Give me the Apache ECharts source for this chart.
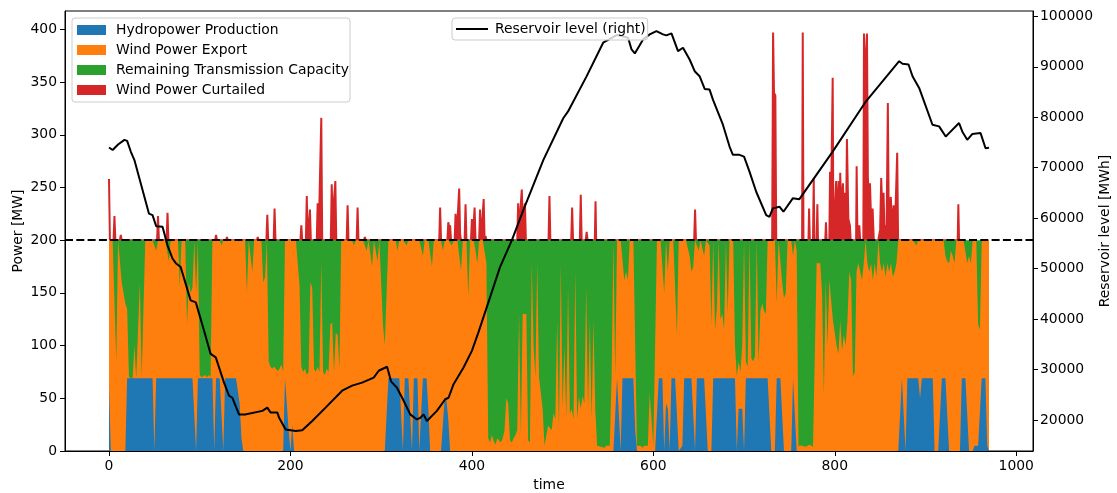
<!DOCTYPE html>
<html>
<head>
<meta charset="utf-8">
<script src="https://cdn.jsdelivr.net/npm/echarts@6/dist/echarts.min.js"></script>
<style>
  html, body { margin: 0; padding: 0; background: #ffffff; }
  #chart { width: 1117px; height: 493px; }
</style>
</head>
<body>
<div id="chart"></div>
<script>
// Dispatch sampled every 2 time units (t = 0, 2, 4, ... 970)
const timeStep = 2;
const capacity = 200; // transmission limit [MW]

// Hydropower production [MW]
const hydro = [
  61,0,0,0,0,0,0,0,0,0,
  69,69,69,69,69,69,69,69,69,69,
  69,69,69,69,69,0,69,69,69,69,
  69,69,69,69,69,69,69,69,69,69,
  69,69,69,69,69,69,69,69,0,69,
  69,69,69,69,69,69,69,69,0,69,
  69,69,69,0,69,69,69,69,69,69,
  69,69,45,12,0,0,0,0,0,0,
  0,0,0,0,0,0,0,0,0,0,
  0,0,0,0,0,0,0,69,69,20,
  0,25,0,0,0,0,0,0,0,0,
  0,0,0,0,0,0,0,0,0,0,
  0,0,0,0,0,0,0,0,0,0,
  0,0,0,0,0,0,0,0,0,0,
  0,0,0,0,0,0,0,0,0,0,
  0,0,0,0,69,69,69,69,69,69,
  69,69,0,69,69,69,69,0,69,69,
  69,0,0,69,69,69,40,0,0,0,
  0,0,0,0,0,50,48,30,0,0,
  0,0,0,0,0,0,0,0,0,0,
  0,0,0,0,0,0,0,0,0,0,
  0,0,0,0,0,0,0,0,0,0,
  0,0,0,0,0,0,0,0,0,0,
  0,0,0,0,0,0,0,0,0,0,
  0,0,0,0,0,0,0,0,0,0,
  0,0,0,0,0,0,0,0,0,0,
  0,0,0,0,0,0,0,0,0,0,
  0,0,0,0,0,0,0,0,0,0,
  69,69,0,69,69,69,69,69,69,69,
  20,0,0,0,0,0,0,0,0,0,
  0,0,0,69,69,69,0,45,40,0,
  69,69,69,69,0,0,5,69,69,69,
  69,69,69,0,69,69,69,69,69,69,
  0,0,0,69,69,69,69,69,69,69,
  69,69,69,69,69,69,0,40,40,40,
  0,69,69,69,69,69,69,69,69,69,
  69,69,69,69,69,0,0,0,69,69,
  69,69,0,0,0,0,0,69,69,0,
  0,0,0,0,0,0,0,0,0,0,
  0,0,0,0,0,0,0,0,0,0,
  0,0,0,0,0,0,0,0,0,0,
  0,0,0,0,0,0,0,0,0,0,
  0,0,0,0,0,0,0,0,0,0,
  0,0,0,0,0,0,0,69,69,0,
  69,69,69,69,69,69,69,50,69,69,
  69,69,69,69,69,0,0,0,0,69,
  69,69,69,0,0,0,0,0,0,0,
  69,69,69,69,0,0,0,5,5,5,
  5,69,69,69,5,0
];

// Wind power exported over the line [MW]
const windExport = [
  139,200,200,200,85,200,200,160,150,140,
  66,1,1,0,31,0,0,91,0,0,
  131,131,131,131,131,200,121,131,131,131,
  131,131,131,111,131,131,131,131,131,86,
  131,131,131,51,91,81,86,131,150,131,
  3,1,1,3,1,3,1,131,200,131,
  131,131,126,200,131,131,131,131,131,131,
  131,131,155,188,200,200,150,200,200,170,
  200,200,200,200,200,160,165,200,85,80,
  78,80,80,76,78,82,75,131,131,180,
  200,175,200,200,200,157,80,75,78,72,
  75,160,155,78,75,80,75,180,75,72,
  78,75,120,122,75,112,110,78,200,200,
  200,200,200,200,200,195,200,200,200,200,
  200,200,190,200,200,175,200,200,180,200,
  200,120,100,100,131,131,131,131,131,121,
  131,131,200,131,126,131,131,200,131,131,
  131,200,200,116,131,131,160,200,175,200,
  200,200,200,200,190,150,152,170,200,195,
  200,200,200,200,171,200,200,200,146,200,
  200,200,190,178,200,200,200,200,178,12,
  8,15,10,6,12,10,8,12,20,50,
  45,10,8,12,15,20,130,15,130,130,
  130,10,8,178,100,70,178,70,70,40,
  5,5,24,24,20,36,30,124,20,178,
  40,100,30,156,35,40,30,171,30,52,
  40,52,45,156,40,124,30,124,40,5,
  5,4,5,3,5,4,5,70,200,70,
  131,131,200,131,93,101,93,131,131,131,
  80,5,4,5,3,5,4,5,55,55,
  5,4,200,131,131,131,150,155,130,200,
  131,131,131,41,200,200,195,131,131,131,
  116,101,106,200,131,121,131,131,116,131,
  200,195,120,131,46,66,131,56,61,46,
  131,61,131,131,131,31,71,45,35,60,
  200,16,11,131,19,16,21,131,14,64,
  71,64,61,131,131,200,200,200,71,131,
  111,91,145,150,200,200,200,116,131,190,
  5,4,5,5,4,5,6,5,4,4,
  178,178,178,150,52,162,100,162,162,124,
  124,100,92,124,95,110,100,124,170,162,
  71,75,170,178,170,162,178,200,178,170,
  178,162,178,165,200,178,170,178,165,178,
  170,178,165,170,178,200,200,131,131,200,
  131,131,131,131,131,126,131,150,131,131,
  131,131,131,131,131,200,200,200,200,131,
  131,116,111,178,190,185,178,200,200,200,
  131,131,131,109,185,178,200,195,195,115,
  110,131,131,131,195,200
];

// Curtailed wind [time, MW]
const curtailed = [
  [0,58],[1,0],[5,0],[6,23],[7,0],[12,0],[13,5],[14,0],
  [53,0],[54,23],[55,0],[63.5,0],[64.5,26],[65.5,0],
  [117,0],[118,5],[119,0],[129,0],[130,3],[131,0],[163,0],[164,3],[165,0],
  [173.5,0],[174.5,24],[175.5,0],[181.5,0],[182.5,30],[183.5,0],
  [211,0],[212,14],[213,0],[217,0],[218,42],[219,0],[220.5,0],[221.5,29],[222.5,0],
  [229,0],[230,35],[231,0],[233,0],[234,116],[235,0],
  [244.5,0],[245.5,53],[246.5,20],[248.5,20],[249.5,56],[250.5,0],
  [262,0],[263,33],[264,0],[273,0],[274,31],[275,0],[281,0],[282,3],[283,0],
  [364,0],[365,31],[366,0],[373,0],[374,17],[375,12],[376,14],[377,0],
  [381,0],[382,25],[383,0],[385,0],[386,49],[387,6],[388,0],
  [392,0],[393,34],[394,0],[399,0],[400,20],[401,0],[402,0],[403,31],[404,0],
  [408,0],[409,29],[410,0],[412,0],[413,39],[414,0],[415,4],[416,0],
  [450,0],[451,35],[452,10],[454,10],[455,48],[456,20],[457,20],[458.5,35],[459.5,0],
  [484.5,0],[485.5,42],[486.5,0],[509.5,0],[510.5,31],[511.5,0],
  [519,0],[520,43],[521,0],[525.5,0],[526.5,8],[527.5,0],[535.5,0],[536.3,37],[537,0],
  [645,0],[646,29],[647,0],
  [731,0],[732,197],[733,140],[734.5,137],[735.5,0],
  [764,0],[764.7,197],[765.5,0],[771,0],[771.7,30],[772.5,0],
  [776,0],[776.8,59],[777.5,0],[780,0],[780.8,34],[781.5,0],
  [789.5,0],[790.3,17],[791,0],[794,0],[794.8,65],[796,40],[797.7,154],[798.5,0],
  [800.5,0],[801.5,56],[803,20],[804.3,56],[805.3,0],[806,64],[807,30],[809,54],
  [810,20],[811.2,45],[812.5,20],[813.4,96],[815,20],[816.7,14],[817.5,0],
  [823.5,0],[824.1,70],[825,0],[826.5,0],[827,14],[828,0],
  [831.5,0],[832.2,196],[833.5,150],[835.5,196],[836.5,60],[837.5,40],[838.8,54],
  [840,20],[841.7,30],[843,0],
  [848,0],[849,5],[850,10],[851.2,59],[852.3,30],[853.8,45],[855,0],[856,14],[857,0],
  [858,0],[858.5,130],[859.5,20],[860.5,20],[861.8,41],[863,10],[864.8,33],[866,0],
  [868,0],[868.8,83],[869.8,0],[935.5,0],[936.2,34],[937,0]
];

// Reservoir level [MWh]
const reservoirTime = [
  0,4,10,17,20,24,28,44,48,52,59,64.5,70,74,79,90,95.7,104.8,112,117.7,
  126.8,132.3,136,143.3,150,169,174.5,178,185.5,187.4,194.7,205.7,213,224,238.7,
  257,268,279,291.8,297.3,306.5,311,317.4,324.8,332,339.4,343,346.8,350.4,361.4,
  370.6,374.3,379.8,390.8,400,407.3,420,431,444,456.7,478.7,500.7,506,526.4,544.7,
  560,572.2,576,579.6,588.7,596,603.4,610.7,614.4,620,627.2,632.7,640,645.6,651,
  656.6,662,665.7,676.7,684,687.7,695,700,706,713.4,724.4,728,731.7,739,743.4,
  753.7,761,797.7,834.4,871,874.7,881.3,885.7,893,907.7,915,922.3,926,937,940.5,
  946,951.5,960.7,966.2,970
];
const reservoirLevel = [
  74000,73500,74600,75500,75300,73200,71500,60900,60600,58400,58300,54600,52000,51000,50300,43700,43300,37700,33100,32400,
  27400,24800,24400,21100,21100,21800,22450,21500,21500,20500,18100,17800,17950,19800,22450,
  25800,26800,27400,28400,29750,30550,27600,26400,23800,21100,20100,20400,21100,19800,21800,
  24100,24400,27100,30400,33700,37400,44300,50300,55600,61600,71500,79800,81150,88100,94760,
  96300,95760,93430,92640,95420,96420,97080,96420,96220,96620,93100,93760,91440,89120,88120,
  85610,85480,83480,78510,74190,72540,72540,72200,69210,65230,60600,60270,61930,62260,61270,
  63920,63760,73190,83150,91100,90580,90450,88120,85810,78510,78180,76180,76850,78850,77180,
  75520,76660,76850,73860,73960
];

// Axis ticks
const timeTicks = [0, 200, 400, 600, 800, 1000];
const powerTicks = [0, 50, 100, 150, 200, 250, 300, 350, 400];
const levelTicks = [20000, 30000, 40000, 50000, 60000, 70000, 80000, 90000, 100000];

// ---- derived layers (stacked tops) ----
const n = Math.min(hydro.length, windExport.length);
const time = [];
for (let i = 0; i < n; i++) time.push(i * timeStep);
const remaining = time.map((_, i) => capacity - hydro[i] - windExport[i]);
const hydroTop = time.map((t, i) => [t, hydro[i]]);
const exportTop = time.map((t, i) => [t, hydro[i] + windExport[i]]);
const remainingTop = time.map((t, i) => [t, hydro[i] + windExport[i] + remaining[i]]);
const curtailTop = curtailed.map(([t, c]) => [t, capacity + c]);
const reservoir = reservoirTime.slice(0, reservoirLevel.length).map((t, i) => [t, reservoirLevel[i]]);

const FONT = 'DejaVu Sans';
const C = { hydro: '#1f77b4', wind: '#ff7f0e', free: '#2ca02c', curt: '#d62728' };

function areaSeries(name, data, color, z, edge) {
  return {
    name, type: 'line', data, z,
    symbol: 'none', silent: true, clip: true,
    lineStyle: { width: edge, color },
    itemStyle: { color },
    areaStyle: { color, opacity: 1 },
    emphasis: { disabled: true }
  };
}

const axisFont = { fontFamily: FONT, fontSize: 13.9, color: '#000' };
function frameLine() {
  return { show: true, onZero: false, lineStyle: { color: '#000', width: 1 } };
}
function ticks(values) {
  return { show: true, inside: false, length: 5, customValues: values, lineStyle: { color: '#000' } };
}

const chart = echarts.init(document.getElementById('chart'), null, { renderer: 'canvas' });
chart.setOption({
  animation: false,
  backgroundColor: '#ffffff',
  textStyle: { fontFamily: FONT },
  grid: {
    left: 65, right: 84, top: 11, bottom: 42,
    containLabel: false, outerBoundsMode: 'none',
    show: true, borderColor: '#000', borderWidth: 1, backgroundColor: 'transparent'
  },
  legend: [
    {
      orient: 'vertical', left: 72, top: 18,
      data: [
        { name: 'Hydropower Production', icon: 'rect' },
        { name: 'Wind Power Export', icon: 'rect' },
        { name: 'Remaining Transmission Capacity', icon: 'rect' },
        { name: 'Wind Power Curtailed', icon: 'rect' }
      ],
      itemWidth: 29, itemHeight: 10, itemGap: 6,
      padding: [5, 1, 5, 5],
      backgroundColor: 'rgba(255,255,255,0.8)',
      borderColor: '#cccccc', borderWidth: 1, borderRadius: 3,
      selectedMode: false, z: 10,
      textStyle: Object.assign({}, axisFont, { lineHeight: 14, padding: [0, 0, 0, 5] })
    },
    {
      orient: 'horizontal', left: 452, top: 18,
      data: [{ name: 'Reservoir level (right)', icon: 'path://M0,0H32V2H0Z' }],
      itemWidth: 32, itemHeight: 2,
      padding: [3, 2, 3, 4],
      backgroundColor: 'rgba(255,255,255,0.8)',
      borderColor: '#cccccc', borderWidth: 1, borderRadius: 3,
      selectedMode: false, z: 10,
      textStyle: Object.assign({}, axisFont, { lineHeight: 16, padding: [0, 0, 0, 2] })
    }
  ],
  xAxis: {
    type: 'value', min: -48.5, max: 1018.5,
    name: 'time', nameLocation: 'middle', nameGap: 27,
    nameTextStyle: axisFont,
    axisLine: frameLine(),
    axisTick: ticks(timeTicks),
    axisLabel: Object.assign({ customValues: timeTicks, margin: 8, formatter: v => String(v) }, axisFont),
    splitLine: { show: false }
  },
  yAxis: [
    {
      type: 'value', min: 0, max: 417.4, position: 'left',
      name: 'Power [MW]', nameLocation: 'middle', nameGap: 40, nameRotate: 90,
      nameMoveOverlap: false,
      nameTextStyle: axisFont,
      axisLine: frameLine(),
      axisTick: ticks(powerTicks),
      axisLabel: Object.assign({ customValues: powerTicks, margin: 8 }, axisFont),
      splitLine: { show: false }
    },
    {
      type: 'value', min: 13850, max: 101050, position: 'right',
      name: 'Reservoir level [MWh]', nameLocation: 'middle', nameGap: 65, nameRotate: 90,
      nameMoveOverlap: false,
      nameTextStyle: axisFont,
      axisLine: frameLine(),
      axisTick: ticks(levelTicks),
      axisLabel: Object.assign({ customValues: levelTicks, margin: 7, formatter: v => String(v) }, axisFont),
      splitLine: { show: false }
    }
  ],
  series: [
    areaSeries('Wind Power Curtailed', curtailTop, C.curt, 1, 2),
    areaSeries('Remaining Transmission Capacity', remainingTop, C.free, 2, 0),
    areaSeries('Wind Power Export', exportTop, C.wind, 3, 0),
    areaSeries('Hydropower Production', hydroTop, C.hydro, 4, 0),
    {
      name: 'capacity limit', type: 'line', data: [], z: 5, silent: true,
      markLine: {
        silent: true, symbol: ['none', 'none'], label: { show: false },
        lineStyle: { color: '#000', type: [8, 3.3], width: 2 },
        emphasis: { disabled: true },
        data: [{ yAxis: capacity }]
      }
    },
    {
      name: 'Reservoir level (right)', type: 'line', yAxisIndex: 1, data: reservoir, z: 6,
      symbol: 'none', silent: true,
      lineStyle: { color: '#000', width: 2 }, itemStyle: { color: '#000' },
      emphasis: { disabled: true }
    }
  ]
});
</script>
</body>
</html>
